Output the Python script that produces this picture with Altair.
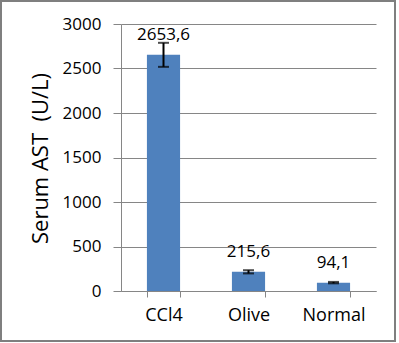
import altair as alt
import pandas as pd

groups = ["CCl4", "Olive", "Normal"]
values = [2653.6, 215.6, 94.1]
errors = [135, 18, 8]
labels = ["2653,6", "215,6", "94,1"]
y_ticks = [0, 500, 1000, 1500, 2000, 2500, 3000]

df = pd.DataFrame({
    "group": groups,
    "value": values,
    "lo": [v - e for v, e in zip(values, errors)],
    "hi": [v + e for v, e in zip(values, errors)],
    "label": labels,
})

FONT = "Open Sans"
GRID = "#868686"

x_enc = alt.X("group:N", sort=groups, title=None,
              scale=alt.Scale(paddingInner=0.61, paddingOuter=0.305),
              axis=alt.Axis(labelAngle=0, labelFont=FONT, labelFontSize=18,
                            labelColor="#000000", labelPadding=9,
                            tickBand="extent", tickSize=6, tickColor=GRID,
                            domainColor=GRID, grid=False))
y_scale = alt.Scale(domain=[0, 3000], nice=False)

base = alt.Chart(df)

bars = base.mark_bar(color="#4F81BD").encode(
    x=x_enc,
    y=alt.Y("value:Q", scale=y_scale, title="Serum AST\u00a0 (U/L)",
            axis=alt.Axis(values=y_ticks, format="d", labelFont=FONT,
                          labelFontSize=17, labelColor="#000000",
                          labelPadding=12, tickSize=8, tickColor=GRID,
                          domainColor=GRID, gridColor=GRID, titleFont=FONT,
                          titleFontSize=22, titleFontWeight="normal",
                          titleColor="#000000", titleX=-74, titleY=134,
                          titleBaseline="alphabetic")),
)

whisk = base.mark_rule(color="#000000", strokeWidth=2).encode(
    x=alt.X("group:N", sort=groups),
    y=alt.Y("lo:Q", scale=y_scale),
    y2="hi:Q",
)
cap_lo = base.mark_tick(color="#000000", thickness=2, size=11).encode(
    x=alt.X("group:N", sort=groups),
    y=alt.Y("lo:Q", scale=y_scale),
)
cap_hi = base.mark_tick(color="#000000", thickness=2, size=11).encode(
    x=alt.X("group:N", sort=groups),
    y=alt.Y("hi:Q", scale=y_scale),
)
text = base.mark_text(font=FONT, fontSize=17, color="#000000",
                      baseline="alphabetic", dy=-15).encode(
    x=alt.X("group:N", sort=groups),
    y=alt.Y("value:Q", scale=y_scale),
    text="label:N",
)

frame = alt.Chart(pd.DataFrame({"f": [0]})).mark_rect(
    fill=None, stroke="#7f7f7f", strokeWidth=2
).encode(
    x=alt.value(-120), x2=alt.value(274),
    y=alt.value(-23), y2=alt.value(317),
)

chart = alt.layer(bars, whisk, cap_lo, cap_hi, text, frame).properties(
    width=255, height=267,
    padding={"left": 121, "top": 24, "right": 23, "bottom": 52},
    autosize=alt.AutoSizeParams(type="none"),
    background="#ffffff",
).configure_view(stroke=None)

chart.save("out.html", embed_options={"renderer": "svg", "actions": False})
